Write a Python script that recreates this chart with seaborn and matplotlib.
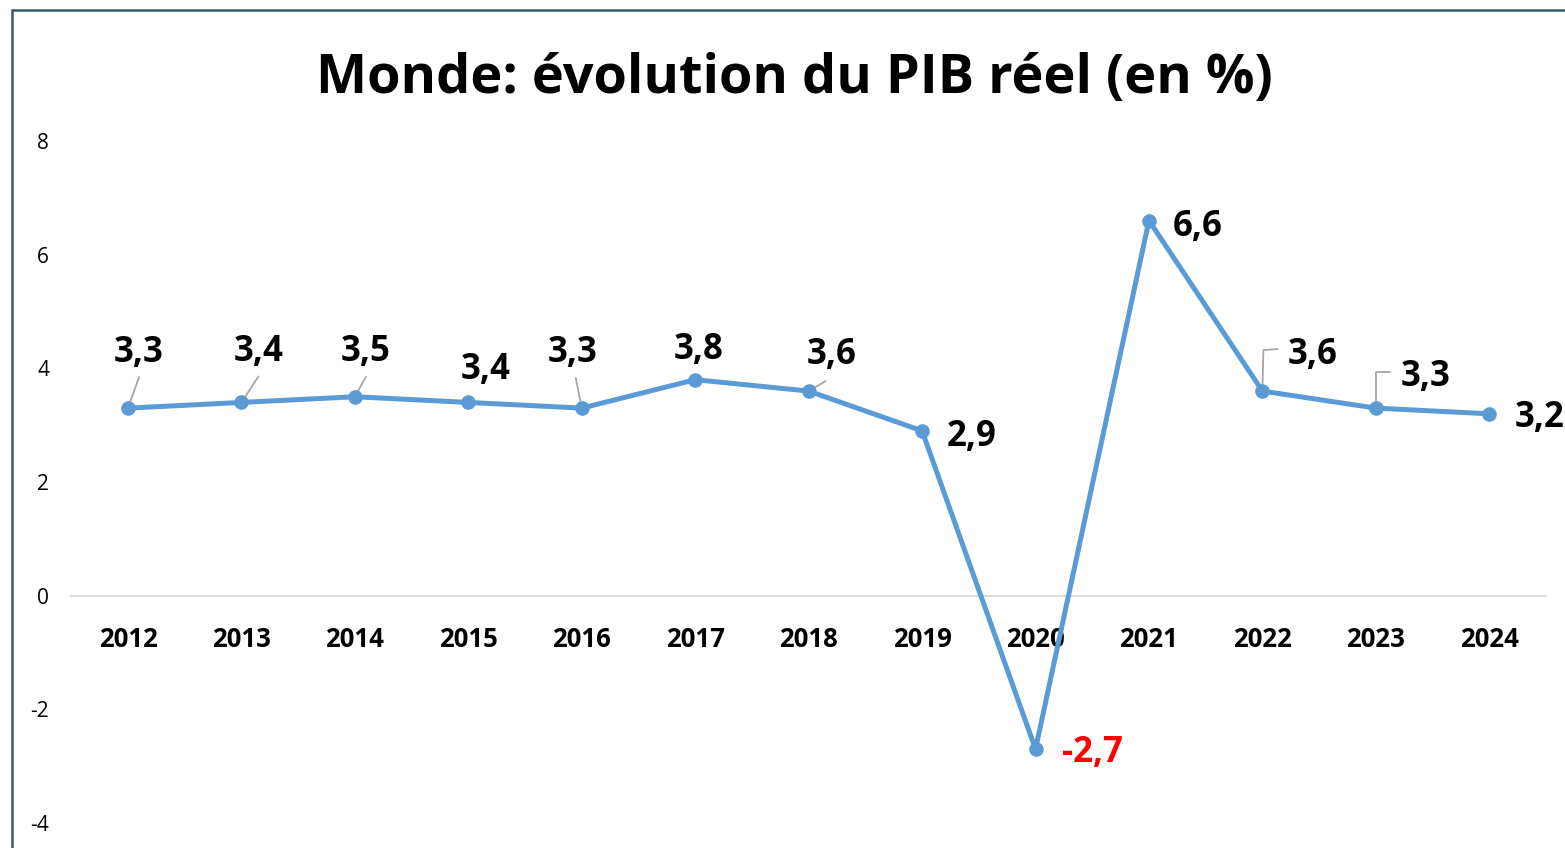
import matplotlib
matplotlib.use("Agg")
import matplotlib.pyplot as plt
import seaborn as sns
import pandas as pd
import numpy as np
from matplotlib.lines import Line2D

years = [2012, 2013, 2014, 2015, 2016, 2017, 2018, 2019, 2020, 2021, 2022, 2023, 2024]
gdp = [3.3, 3.4, 3.5, 3.4, 3.3, 3.8, 3.6, 2.9, -2.7, 6.6, 3.6, 3.3, 3.2]
labels = ["3,3", "3,4", "3,5", "3,4", "3,3", "3,8", "3,6", "2,9", "-2,7", "6,6", "3,6", "3,3", "3,2"]
yticks = [-4, -2, 0, 2, 4, 6, 8]
title = "Monde: évolution du PIB réel (en %)"

# label placement: pixel offsets (dx, dy down) of label baseline-centre from marker
label_off = [(11, -46), (17, -41), (11, -36), (17, -23), (-9, -46), (3, -21), (23, -27),
             (50, 15), (57, 13), (49, 15), (50, -27), (50, -22), (50, 13)]
leaders = {0: [(0, 0), (11, -31)], 1: [(0, 0), (17, -26)], 2: [(0, 0), (11, -20)],
           4: [(0, 0), (-6, -30)], 6: [(0, 0), (17, -10)],
           10: [(0, 0), (1, -41), (15, -42)], 11: [(0, 0), (0, -36), (14, -36)]}

sns.set_theme(style="white")
plt.rcParams['font.family'] = ['Open Sans', 'DejaVu Sans']

W, H = 1565, 848
fig = plt.figure(figsize=(W / 100, H / 100), dpi=100)
ax = fig.add_axes([71.3 / W, 1 - 823 / H, (1546 - 71.3) / W, (823 - 141) / H])

df = pd.DataFrame({"year": years, "gdp": gdp})
sns.lineplot(data=df, x="year", y="gdp", ax=ax, color="#5b9bd5", linewidth=3.6,
             marker="o", markersize=10.5, markeredgewidth=0, zorder=3)

for s in ["top", "right", "left"]:
    ax.spines[s].set_visible(False)
ax.spines["bottom"].set_position(("data", 0))
ax.spines["bottom"].set_color("#d9d9d9")
ax.spines["bottom"].set_linewidth(1.3)
ax.spines["bottom"].set_zorder(1)

ax.set_xlim(2011.5, 2024.5)
ax.set_ylim(-4, 8)
ax.set_yticks(yticks)
ax.set_yticklabels([str(t) for t in yticks], fontsize=15)
ax.set_xticks(years)
ax.set_xticklabels([str(y) for y in years], fontsize=18.5, fontweight="bold")
ax.set_xlabel("")
ax.set_ylabel("")
ax.tick_params(axis="x", length=0, pad=22, colors="black")
ax.tick_params(axis="y", length=0, pad=16, colors="black")
ax.grid(False)

fig.canvas.draw()
inv = ax.transData.inverted()
for i, (yr, v, lab) in enumerate(zip(years, gdp, labels)):
    px, py = ax.transData.transform((yr, v))
    dx, dy = label_off[i]
    tx, ty = inv.transform((px + dx, py - dy))
    color = "#ff0000" if v < 0 else "black"
    ax.text(tx, ty, lab, ha="center", va="baseline", fontsize=25, fontweight="bold",
            color=color, clip_on=False, zorder=5)
    if i in leaders:
        pts = [inv.transform((px + a, py - b)) for a, b in leaders[i]]
        ax.plot([p[0] for p in pts], [p[1] for p in pts], color="#a6a6a6",
                linewidth=1.3, zorder=2, clip_on=False)

fig.text(794 / W, 1 - 93 / H, title, ha="center", va="baseline", fontsize=39,
         fontweight="bold", color="black")

fig.add_artist(Line2D([12 / W, 12 / W], [0, 1 - 10 / H], color="#3b5775", linewidth=1.8))
fig.add_artist(Line2D([12 / W, 1], [1 - 10 / H, 1 - 10 / H], color="#3b5775", linewidth=1.8))

fig.savefig("out.png", dpi=100, facecolor="white")
